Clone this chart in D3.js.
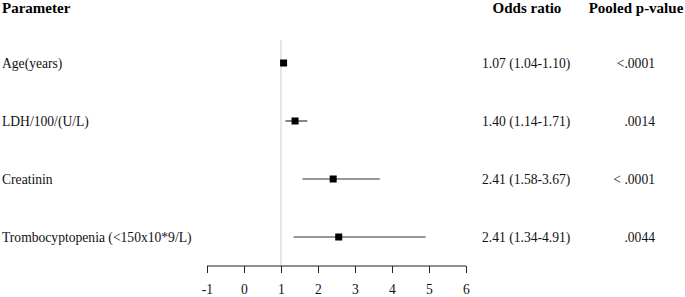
<!DOCTYPE html>
<html>
<head>
<meta charset="utf-8">
<script src="https://cdn.jsdelivr.net/npm/d3@7"></script>
<style>
    body { margin: 0; background: #fff; }
    svg { display: block; font-family: "Liberation Serif", "Times New Roman", serif; }
    .head { font-weight: bold; font-size: 15px; }
    .lbl { font-size: 13.6px; fill: #111; }
    .axis text { font-size: 13.6px; font-family: "Liberation Serif", serif; fill: #111; }
</style>
</head>
<body>
<svg class="main" width="685" height="297"></svg>
<script>
var params = ["Age(years)", "LDH/100/(U/L)", "Creatinin", "Trombocyptopenia (<150x10*9/L)"],
    estimates = [1.07, 1.38, 2.41, 2.56],   // as plotted
    lower = [1.04, 1.12, 1.58, 1.34],
    upper = [1.10, 1.71, 3.67, 4.91],
    orLabels = ["1.07 (1.04-1.10)", "1.40 (1.14-1.71)", "2.41 (1.58-3.67)", "2.41 (1.34-4.91)"],
    pLabels = ["<.0001", ".0014", "< .0001", ".0044"],
    xTicks = [-1, 0, 1, 2, 3, 4, 5, 6];

var rows = params.map(function(p, i) {
    return { name: p, est: estimates[i], lo: lower[i], hi: upper[i], or: orLabels[i], p: pLabels[i] };
});

var svg = d3.select(".main");

var x = d3.scaleLinear().domain([-1, 6]).range([207, 466]),
    y = d3.scalePoint().domain(params).range([63, 237]),
    axisY = 266;

// headers
svg.append("text").attr("class", "head").attr("x", 2).attr("y", 13).text("Parameter");
svg.append("text").attr("class", "head").attr("x", 527).attr("y", 13)
    .attr("text-anchor", "middle").text("Odds ratio");
svg.append("text").attr("class", "head").attr("x", 636).attr("y", 13)
    .attr("text-anchor", "middle").text("Pooled p-value");

// reference line at OR = 1
svg.append("line")
    .attr("x1", x(1)).attr("x2", x(1))
    .attr("y1", 40).attr("y2", axisY)
    .attr("stroke", "#cfcfcf").attr("stroke-width", 1);

// axis
var axis = d3.axisBottom(x)
    .tickValues(xTicks)
    .tickSize(7)
    .tickPadding(11)
    .tickFormat(function(d) { return String(d); });

var gAxis = svg.append("g").attr("class", "axis")
    .attr("transform", "translate(0," + axisY + ")")
    .call(axis);
gAxis.select(".domain").remove();
gAxis.append("line")
    .attr("x1", x(-1)).attr("x2", x(6))
    .attr("stroke", "#222");
gAxis.selectAll(".tick line").attr("stroke", "#222");

// rows
var row = svg.selectAll(".row")
    .data(rows).enter()
    .append("g")
    .classed("row", 1);

row.append("text")
    .attr("class", "lbl")
    .attr("x", 2)
    .attr("y", function(d) { return y(d.name) + 5; })
    .text(function(d) { return d.name; });

row.append("line")
    .attr("x1", function(d) { return x(d.lo); })
    .attr("x2", function(d) { return x(d.hi); })
    .attr("y1", function(d) { return y(d.name); })
    .attr("y2", function(d) { return y(d.name); })
    .attr("stroke", "#333")
    .attr("stroke-width", 1.2);

row.append("rect")
    .attr("x", function(d) { return x(d.est) - 3.5; })
    .attr("y", function(d) { return y(d.name) - 3.5; })
    .attr("width", 7)
    .attr("height", 7)
    .attr("fill", "#000");

row.append("text")
    .attr("class", "lbl")
    .attr("x", 482)
    .attr("y", function(d) { return y(d.name) + 5; })
    .text(function(d) { return d.or; });

row.append("text")
    .attr("class", "lbl")
    .attr("x", 655)
    .attr("text-anchor", "end")
    .attr("y", function(d) { return y(d.name) + 5; })
    .text(function(d) { return d.p; });
</script>
</body>
</html>
